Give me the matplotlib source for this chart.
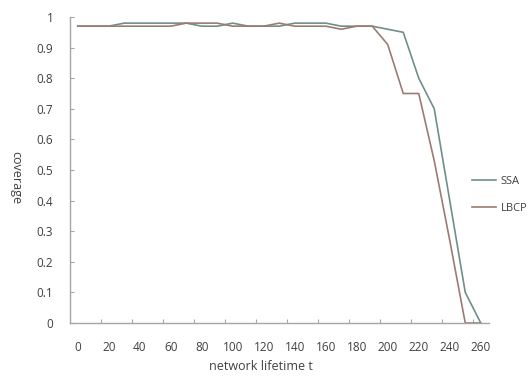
import matplotlib
matplotlib.use('Agg')
import matplotlib.pyplot as plt
import numpy as np

# network lifetime categories (Excel category axis)
lifetime = list(range(0, 270, 10))
ssa = [0.97, 0.97, 0.97, 0.98, 0.98, 0.98, 0.98, 0.98, 0.97, 0.97,
       0.98, 0.97, 0.97, 0.97, 0.98, 0.98, 0.98, 0.97, 0.97, 0.97,
       0.96, 0.95, 0.80, 0.70, 0.40, 0.10, 0.0]
lbcp = [0.97, 0.97, 0.97, 0.97, 0.97, 0.97, 0.97, 0.98, 0.98, 0.98,
        0.97, 0.97, 0.97, 0.98, 0.97, 0.97, 0.97, 0.96, 0.97, 0.97,
        0.91, 0.75, 0.75, 0.53, 0.27, 0.0, 0.0]
x_labels = [str(v) for v in lifetime[::2]]
y_ticks = [round(0.1 * i, 1) for i in range(11)]

plt.rcParams['font.family'] = ['Open Sans', 'DejaVu Sans']
txt = '#404040'
grey = '#a6a6a6'

fig = plt.figure(figsize=(5.3, 3.76), dpi=100)
ax = fig.add_axes([70 / 530, 1 - 323 / 376, 418.5 / 530, 306 / 376])

idx = np.arange(len(lifetime))
ax.plot(idx, ssa, color='#6f8f8a', lw=1.2, label='SSA')
ax.plot(idx, lbcp, color='#9c7b72', lw=1.2, label='LBCP')

ax.set_xlim(-0.5, len(lifetime) - 0.5)
ax.set_ylim(0, 1)

# labels on every other category, tick marks on category boundaries
ax.set_xticks(idx[::2])
ax.set_xticklabels(x_labels)
ax.set_xticks(np.arange(1.5, len(lifetime) - 1, 2), minor=True)
ax.tick_params(axis='x', which='major', length=0, pad=13, labelsize=8.5, labelcolor=txt)
ax.tick_params(axis='x', which='minor', direction='in', length=3, color=grey, width=0.8)

ax.set_yticks(y_ticks)
ax.set_yticklabels(['%g' % v for v in y_ticks])
ax.tick_params(axis='y', direction='in', length=3, color=grey, width=0.8,
               pad=12, labelsize=8.5, labelcolor=txt)

for side in ['top', 'right']:
    ax.spines[side].set_visible(False)
for side in ['left', 'bottom']:
    ax.spines[side].set_color(grey)
    ax.spines[side].set_linewidth(1.0)

fig.text(261 / 530, 1 - 367 / 376, 'network lifetime t', ha='center', va='center',
         fontsize=9, color=txt)
fig.text(16 / 530, 1 - 178 / 376, 'coverage', ha='center', va='center',
         rotation=270, fontsize=9, color=txt)

leg = ax.legend(loc='center left', bbox_to_anchor=(462 / 530, 1 - 195 / 376),
                bbox_transform=fig.transFigure, frameon=False, fontsize=8,
                handlelength=2.2, handletextpad=0.4, labelspacing=1.5)
for t in leg.get_texts():
    t.set_color(txt)

fig.savefig('out.png', dpi=100)
